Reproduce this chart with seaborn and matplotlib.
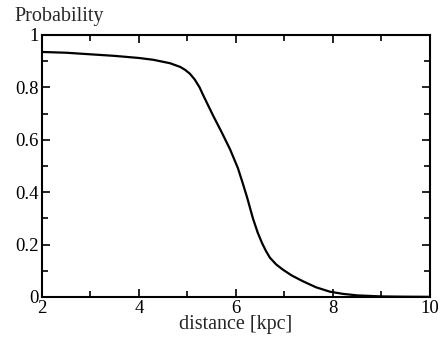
import matplotlib
matplotlib.use("Agg")
import matplotlib.pyplot as plt
import seaborn as sns
import pandas as pd
from matplotlib.ticker import MultipleLocator

# valores
distancia = [2.0, 2.5, 3.0, 3.5, 4.0, 4.3, 4.64, 4.85, 4.95, 5.05, 5.15, 5.25,
             5.32, 5.43, 5.53, 5.71, 5.88, 6.04, 6.13, 6.23, 6.35, 6.45, 6.54,
             6.62, 6.70, 6.83, 6.97, 7.15, 7.38, 7.65, 7.94, 8.2, 8.5, 9.0,
             9.5, 10.0]
probabilidad = [0.935, 0.932, 0.926, 0.920, 0.912, 0.905, 0.892, 0.878, 0.867,
                0.852, 0.830, 0.800, 0.772, 0.730, 0.692, 0.627, 0.563, 0.492,
                0.440, 0.380, 0.300, 0.245, 0.205, 0.175, 0.150, 0.124, 0.104,
                0.082, 0.060, 0.037, 0.020, 0.012, 0.006, 0.002, 0.001, 0.0005]

df = pd.DataFrame({"distance": distancia, "prob": probabilidad})

sns.set_style("ticks")
plt.rcParams["font.family"] = ["Liberation Serif", "DejaVu Serif"]

fig, ax = plt.subplots(figsize=(4.41, 3.39), dpi=100)
fig.subplots_adjust(left=0.095, right=0.975, top=0.897, bottom=0.124)

sns.lineplot(data=df, x="distance", y="prob", ax=ax, color="black", linewidth=1.6)

ax.set_xlim(2, 10)
ax.set_ylim(0, 1)
ax.xaxis.set_major_locator(MultipleLocator(2))
ax.xaxis.set_minor_locator(MultipleLocator(1))
ax.yaxis.set_major_locator(MultipleLocator(0.2))
ax.yaxis.set_minor_locator(MultipleLocator(0.1))
ax.xaxis.set_major_formatter(plt.FuncFormatter(lambda v, p: f"{v:g}"))
ax.yaxis.set_major_formatter(plt.FuncFormatter(lambda v, p: f"{v:g}"))

for s in ax.spines.values():
    s.set_visible(True)
    s.set_linewidth(1.5)
    s.set_color("black")

ax.tick_params(which="both", direction="in", top=True, right=True,
               labelsize=13.5, colors="black", width=1.2)
ax.tick_params(which="major", length=6, pad=2)
ax.tick_params(which="minor", length=4)

ax.set_xlabel("distance [kpc]", fontsize=14.5, labelpad=-1)
ax.set_ylabel("")
ax.text(-0.07, 1.035, "Probability", transform=ax.transAxes, fontsize=14.5,
        ha="left", va="bottom")

fig.savefig("out.png", dpi=100)
